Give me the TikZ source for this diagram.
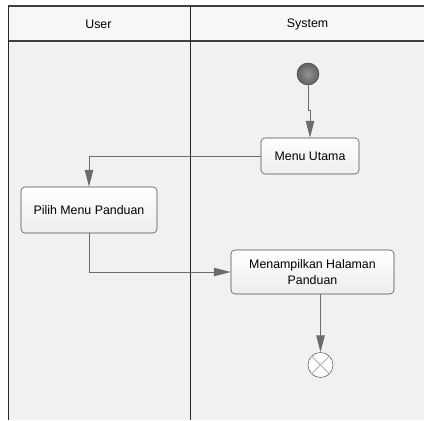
\documentclass[tikz,border=0pt]{standalone}
\usepackage{fontspec}
\setmainfont{Liberation Sans}
\usetikzlibrary{arrows.meta}
\tikzset{
  lane/.style={draw=black!80, line width=0.7pt, fill=gray!9},
  action/.style={draw=gray!60!black, rounded corners=0.1cm, top color=white, bottom color=gray!14,
                 minimum width=#1, minimum height=0.9cm, align=center,
                 font=\fontsize{8.8}{11.4}\selectfont},
  action/.default=2.45cm,
  flow/.style={draw=gray!85!black, line width=0.7pt, -{Triangle[length=12pt,width=6pt]}},
}
\begin{document}
\begin{tikzpicture}
                      \useasboundingbox (0,0) rectangle (10.6,10.5);
                      \fill[gray!11] (0.2,0) rectangle (10.6,10.35);
                      \fill[gray!6] (0.2,9.475) rectangle (10.6,10.35);
                      \draw[black!75, line width=0.8pt] (0.2,10.35) -- (10.6,10.35);
                      \draw[black!75, line width=0.8pt] (0.2,9.475) -- (10.6,9.475);
                      \draw[black!85, line width=0.7pt] (0.2,0) -- (0.2,10.35);
                      \draw[black!85, line width=0.7pt] (4.7625,0) -- (4.7625,10.35);
                      \node[font=\fontsize{8.8}{10}\selectfont] (user) at (2.46,9.9) {User};
                      \node[font=\fontsize{8.8}{10}\selectfont] (system) at (7.69,9.9) {System};
                      \node[circle, draw=black!70, inner color=black!42, outer color=black!62, minimum size=0.55cm, inner sep=0pt] (start) at (7.7,8.65) {};
                      \node[action] (menu) at (7.75,6.6) {Menu Utama};
                      \node[action=3.4cm, minimum height=1.15cm] (pilih) at (2.225,5.25) {Pilih Menu Panduan};
                      \node[action=4.075cm, minimum height=1.1cm] (tampil) at (7.8125,3.7) {Menampilkan Halaman\\ Panduan};
                      \node[circle, draw=gray!70!black, fill=white, minimum size=0.625cm, inner sep=0pt] (akhir) at (8.0125,1.375) {};
                      \draw[gray!60, line width=0.6pt] (akhir.north west) -- (akhir.south east);
                      \draw[gray!60, line width=0.6pt] (akhir.north east) -- (akhir.south west);
                      \draw[flow] (start.south) -- ++(0,-0.62) -| (menu.north);
                      \draw[flow] (menu.west) -| (pilih.north);
                      \draw[flow] (pilih.south) |- (tampil.west);
                      \draw[flow] (tampil.south -| akhir.north) -- (akhir.north);
                  \end{tikzpicture}
\end{document}
